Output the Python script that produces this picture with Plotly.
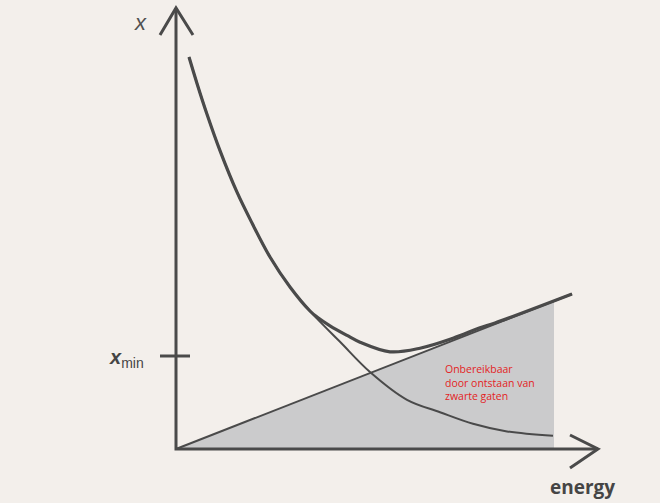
import plotly.graph_objects as go

# energy (horizontal) and size x (vertical), arbitrary units
unc_E = [0.325, 0.525, 0.775, 1.1, 1.525, 1.9, 2.35, 2.85, 3.35, 3.525, 4.1, 4.85,
         5.775, 6.6, 7.425, 8.275, 9.425]
unc_X = [9.8, 9.14, 8.37, 7.46, 6.42, 5.65, 4.8, 4.05, 3.45, 3.26, 2.68, 1.925,
         1.23, 0.92, 0.63, 0.44, 0.33]

bh_E = [0.0, 9.45, 9.9]
bh_X = [0.0, 3.7, 3.875]

sum_E = [0.325, 0.525, 0.775, 1.1, 1.525, 1.9, 2.35, 2.85, 3.35, 3.525, 3.85, 4.275,
         4.6, 5.35, 6.1, 6.925, 7.6, 7.975, 9.9]
sum_X = [9.8, 9.14, 8.37, 7.46, 6.42, 5.65, 4.8, 4.05, 3.45, 3.3, 3.08, 2.84,
         2.67, 2.43, 2.52, 2.77, 3.03, 3.15, 3.875]

shade_E = [0.0, 9.45, 9.45, 0.0]
shade_X = [0.0, 3.7, 0.0, 0.0]

x_min = 2.325
E_end = 10.55
X_end = 11.025

INK = "#4a4a4a"
PAPER = "#f3efeb"

fig = go.Figure()

# unreachable region (black holes)
fig.add_trace(go.Scatter(x=shade_E, y=shade_X, mode="lines", fill="toself",
                         fillcolor="#cbcbcc", line=dict(width=0), hoverinfo="skip"))

fig.add_trace(go.Scatter(x=unc_E, y=unc_X, mode="lines",
                         line=dict(color=INK, width=2, shape="spline", smoothing=1)))
fig.add_trace(go.Scatter(x=bh_E, y=bh_X, mode="lines",
                         line=dict(color=INK, width=2)))
fig.add_trace(go.Scatter(x=sum_E, y=sum_X, mode="lines",
                         line=dict(color=INK, width=3.2, shape="spline", smoothing=1)))

# axes with open arrow heads
fig.add_trace(go.Scatter(x=[0, 0, E_end], y=[X_end, 0, 0], mode="lines",
                         line=dict(color=INK, width=3)))
fig.add_trace(go.Scatter(x=[-0.4, 0, 0.425], y=[X_end - 0.675, X_end, X_end - 0.675],
                         mode="lines", line=dict(color=INK, width=3)))
fig.add_trace(go.Scatter(x=[E_end - 0.7, E_end, E_end - 0.7], y=[0.35, 0, -0.475],
                         mode="lines", line=dict(color=INK, width=3)))
# x_min tick
fig.add_trace(go.Scatter(x=[-0.4, 0.35], y=[x_min, x_min], mode="lines",
                         line=dict(color=INK, width=3)))

fig.add_annotation(x=-0.9, y=10.675, text="<i>x</i>", showarrow=False,
                   font=dict(family="Liberation Sans", size=22, color="#505050"))
fig.add_annotation(x=-0.75, y=x_min, xanchor="right", text="<b><i>x</i></b><sub>min</sub>",
                   showarrow=False, yshift=-2,
                   font=dict(family="Liberation Sans", size=20, color="#454545"))
fig.add_annotation(x=10.15, y=-0.95, text="<b>energy</b>", showarrow=False,
                   font=dict(family="Open Sans", size=19, color="#454545"))
fig.add_annotation(x=6.675, y=2.22, xanchor="left", yanchor="top", align="left",
                   text="Onbereikbaar<br>door ontstaan van<br>zwarte gaten",
                   showarrow=False,
                   font=dict(family="Open Sans", size=10.5, color="#e31e24"))

fig.update_layout(
    width=660, height=503,
    margin=dict(l=0, r=0, t=0, b=0),
    paper_bgcolor=PAPER, plot_bgcolor=PAPER,
    showlegend=False,
    xaxis=dict(range=[-4.4, 12.1], visible=False, fixedrange=True),
    yaxis=dict(range=[-1.35, 11.225], visible=False, fixedrange=True),
)

fig.write_html("out.html", config={"displayModeBar": False},
               post_script="document.body.style.margin='0';"
                           "document.body.style.overflow='hidden';"
                           "document.body.style.background='" + PAPER + "';")
